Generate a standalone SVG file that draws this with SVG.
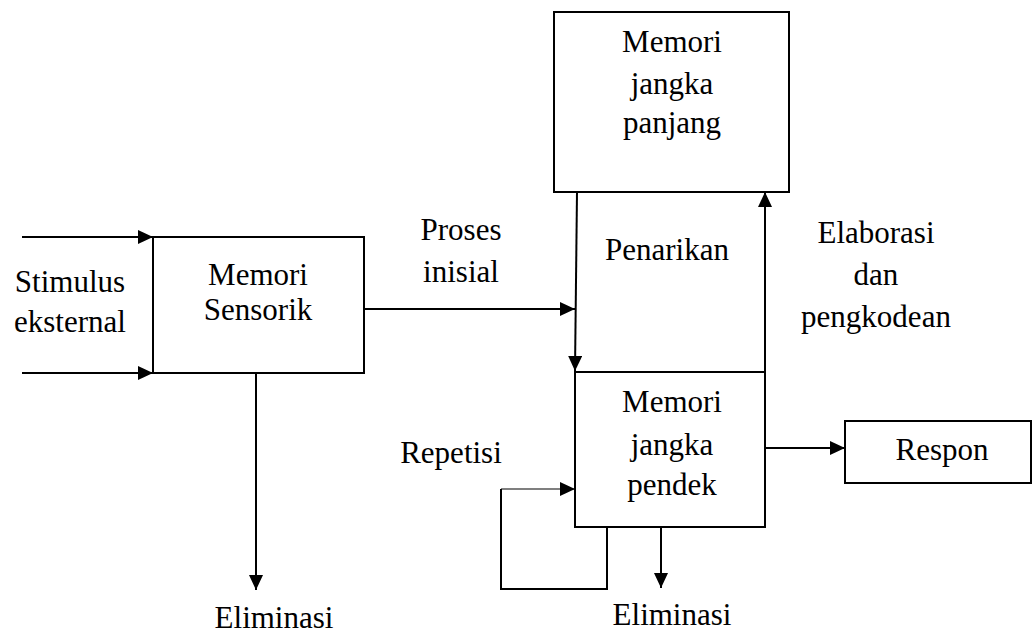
<svg xmlns="http://www.w3.org/2000/svg" width="1034" height="633" viewBox="0 0 1034 633">
  <style>
    .box { fill: #ffffff; stroke: #000000; stroke-width: 2; }
    .line { fill: none; stroke: #000000; stroke-width: 2; }
    .thin { fill: none; stroke: #000000; stroke-width: 1.2; }
    text { font-family: "Liberation Serif", "Times New Roman", serif; font-size: 31px; fill: #000000; text-anchor: middle; }
  </style>
  <defs>
    <marker id="arrow" markerUnits="userSpaceOnUse" markerWidth="16" markerHeight="14" refX="15" refY="7" orient="auto">
      <path d="M0,0 L15,7 L0,14 Z" fill="#000000"/>
    </marker>
  </defs>

  <rect width="1034" height="633" fill="#ffffff"/>

  <!-- free labels -->
  <g id="label-stimulus">
    <text x="70" y="292">Stimulus</text>
    <text x="70" y="332">eksternal</text>
  </g>
  <g id="label-proses">
    <text x="461" y="240">Proses</text>
    <text x="461" y="282">inisial</text>
  </g>
  <g id="label-penarikan">
    <text x="667" y="260">Penarikan</text>
  </g>
  <g id="label-elaborasi">
    <text x="876" y="243">Elaborasi</text>
    <text x="876" y="285">dan</text>
    <text x="876" y="327">pengkodean</text>
  </g>
  <g id="label-repetisi">
    <text x="451" y="463">Repetisi</text>
  </g>
  <g id="label-eliminasi-1">
    <text x="274" y="628">Eliminasi</text>
  </g>
  <g id="label-eliminasi-2">
    <text x="672" y="625">Eliminasi</text>
  </g>

  <!-- connectors -->
  <g id="connectors">
    <line class="line" x1="22" y1="237" x2="153" y2="237" marker-end="url(#arrow)"/>
    <line class="line" x1="22" y1="373" x2="153" y2="373" marker-end="url(#arrow)"/>
    <line class="line" x1="256" y1="373" x2="256" y2="590" marker-end="url(#arrow)"/>
    <line class="line" x1="364" y1="309" x2="575" y2="309" marker-end="url(#arrow)"/>
    <line class="line" x1="577" y1="192" x2="575" y2="371" marker-end="url(#arrow)"/>
    <line class="line" x1="765" y1="398" x2="765" y2="192" marker-end="url(#arrow)"/>
    <line class="line" x1="765" y1="448" x2="845" y2="448" marker-end="url(#arrow)"/>
    <line class="line" x1="661" y1="527" x2="661" y2="588" marker-end="url(#arrow)"/>
    <polyline class="line" points="607,527 607,589 501,589 501,489"/>
    <line class="thin" x1="501" y1="489" x2="575" y2="489" marker-end="url(#arrow)"/>
  </g>

  <!-- nodes -->
  <g id="node-sensorik">
    <rect class="box" x="153" y="237" width="211" height="136"/>
    <text x="258" y="285">Memori</text>
    <text x="258" y="320">Sensorik</text>
  </g>
  <g id="node-jangka-panjang">
    <rect class="box" x="554" y="12" width="235" height="180"/>
    <text x="672" y="52">Memori</text>
    <text x="672" y="94">jangka</text>
    <text x="672" y="133">panjang</text>
  </g>
  <g id="node-jangka-pendek">
    <rect class="box" x="575" y="372" width="190" height="155"/>
    <text x="672" y="412">Memori</text>
    <text x="672" y="455">jangka</text>
    <text x="672" y="495">pendek</text>
  </g>
  <g id="node-respon">
    <rect class="box" x="845" y="421" width="186" height="62"/>
    <text x="942" y="460">Respon</text>
  </g>
</svg>
